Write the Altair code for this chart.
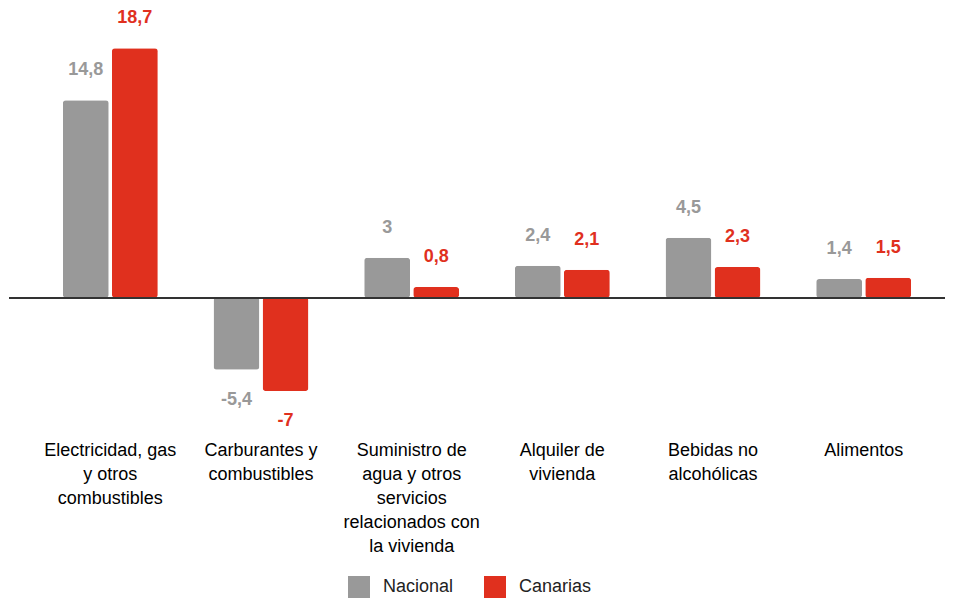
import altair as alt
import pandas as pd

categories = [
    "Electricidad, gas y otros combustibles",
    "Carburantes y combustibles",
    "Suministro de agua y otros servicios relacionados con la vivienda",
    "Alquiler de vivienda",
    "Bebidas no alcohólicas",
    "Alimentos",
]
category_lines = [
    "Electricidad, gas|y otros|combustibles",
    "Carburantes y|combustibles",
    "Suministro de|agua y otros|servicios|relacionados con|la vivienda",
    "Alquiler de|vivienda",
    "Bebidas no|alcohólicas",
    "Alimentos",
]
series = ["Nacional", "Canarias"]
nacional = [14.8, -5.4, 3, 2.4, 4.5, 1.4]
canarias = [18.7, -7, 0.8, 2.1, 2.3, 1.5]
colors = ["#999999", "#e0301e"]

rows = []
for i, cat in enumerate(category_lines):
    for s, vals in zip(series, [nacional, canarias]):
        v = vals[i]
        rows.append({"cat": cat, "series": s, "value": v,
                     "label": f"{v:g}".replace(".", ","),
                     "dir": 1 if v >= 0 else -1})
df = pd.DataFrame(rows)

FONT = "Liberation Sans"

x_enc = alt.X(
    "cat:N", sort=category_lines,
    scale=alt.Scale(paddingInner=0.37, paddingOuter=0.185),
    axis=alt.Axis(title=None, labelExpr="split(datum.value, '|')", labelAngle=0,
                  domain=False, ticks=False, labelFontSize=18, labelLineHeight=24,
                  labelPadding=10, labelColor="#000000", labelFont=FONT, labelLimit=0),
)
xoff = alt.XOffset("series:N", sort=series,
                   scale=alt.Scale(paddingInner=0.065, paddingOuter=0))
y_enc = alt.Y("value:Q", scale=alt.Scale(domain=[-10, 21.5], nice=False), axis=None)
y_plain = alt.Y("value:Q")
color_scale = alt.Scale(domain=series, range=colors)

base = alt.Chart(df)

bars = base.mark_bar(cornerRadius=3).encode(
    x=x_enc, xOffset=xoff, y=y_enc,
    color=alt.Color("series:N", scale=color_scale, sort=series,
                    legend=alt.Legend(orient="none", legendX=313, legendY=565,
                                      direction="horizontal", title=None,
                                      symbolType="square", symbolSize=484,
                                      symbolStrokeWidth=0, symbolOpacity=1,
                                      labelFontSize=18, labelFont=FONT, labelColor="#222222",
                                      columnPadding=30, labelOffset=13)),
)

text_pos = base.transform_filter("datum.dir > 0").mark_text(
    dy=-30, baseline="middle", fontSize=18, fontWeight="bold", font=FONT
).encode(
    x=x_enc, xOffset=xoff, y=y_plain, text="label:N",
    color=alt.Color("series:N", scale=color_scale, sort=series, legend=None),
)
text_neg = base.transform_filter("datum.dir < 0").mark_text(
    dy=30, baseline="middle", fontSize=18, fontWeight="bold", font=FONT
).encode(
    x=x_enc, xOffset=xoff, y=y_plain, text="label:N",
    color=alt.Color("series:N", scale=color_scale, sort=series, legend=None),
)

zero = base.mark_rule(color="#333333", strokeWidth=1.5).encode(
    y=alt.datum(0), x=alt.value(-26), x2=alt.value(910)
)

chart = alt.layer(bars, zero, text_pos, text_neg).properties(
    width=904, height=420,
    padding={"left": 0, "top": 1, "right": 0, "bottom": 0},
).configure_view(stroke=None)

chart.save("out.html", embed_options={"renderer": "svg", "actions": False})
